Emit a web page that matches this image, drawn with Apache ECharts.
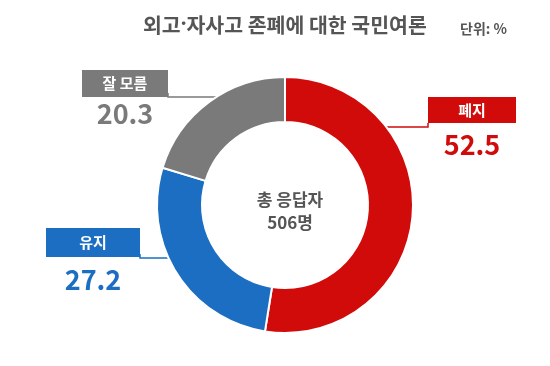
<!DOCTYPE html>
<html><head><meta charset="utf-8">
<script src="https://cdn.jsdelivr.net/npm/echarts@6/dist/echarts.min.js"></script>
<style>html,body{margin:0;padding:0;background:#fff}#c{width:550px;height:366px}</style>
</head><body><div id="c"></div>
<script>
var categories = ['폐지', '유지', '잘 모름'];
var values = [52.5, 27.2, 20.3];
var colors = ['#d10a0a', '#1b6ec2', '#7a7a7a'];
var titleParts = ['외고', '·', '자사고 존폐에 대한 국민여론'];
var unitText = '단위: %';
var centerText = '총 응답자\n506명';

// label layout: box center x, box top y, box width, box height, value line height, leader line y, side
var labelBoxes = [
  {cx: 472, top: 97, w: 88, h: 26, vlh: 44, lineY: 127, side: 1},
  {cx: 93, top: 228, w: 94, h: 29, vlh: 46, lineY: 258, side: -1},
  {cx: 125, top: 70, w: 86, h: 27, vlh: 34, lineY: 97, side: -1}
];
var CX = 285, CY = 205, R_OUT = 128, R_IN = 83;
var FONT = '"Noto Sans CJK KR", "Noto Sans", sans-serif';

var chart = echarts.init(document.getElementById('c'));
var data = categories.map(function (name, i) {
  var b = labelBoxes[i];
  return {
    name: name, value: values[i],
    itemStyle: {color: colors[i]},
    label: {
      formatter: '{box|{b}}\n{val|{c}}',
      overflow: 'none',
      rich: {
        box: {backgroundColor: colors[i], color: '#fff', width: b.w, height: b.h, lineHeight: b.h,
              align: 'center', fontSize: 15, fontWeight: 'bold', fontFamily: FONT},
        val: {color: colors[i], width: b.w, align: 'center', fontSize: 27, fontWeight: 'bold',
              lineHeight: b.vlh, fontFamily: FONT}
      }
    },
    labelLine: {lineStyle: {color: colors[i], width: 1.5}}
  };
});

chart.setOption({
  backgroundColor: '#fff',
  animation: false,
  title: [
    {text: '{a|' + titleParts[0] + '}{d|' + titleParts[1] + '}{a|' + titleParts[2] + '}', left: 138, top: 10,
     textStyle: {rich: {
       a: {fontSize: 20.5, fontWeight: 'bold', color: '#555', fontFamily: FONT},
       d: {fontSize: 20.5, fontWeight: 'bold', color: '#555', fontFamily: '"Noto Sans", sans-serif'}
     }}},
    {text: unitText, left: 455, top: 17, textStyle: {fontSize: 14, fontWeight: 'bold', color: '#555', fontFamily: FONT}},
    {text: centerText, left: CX, top: CY - 22, textAlign: 'center',
     textStyle: {fontSize: 17, fontWeight: 'bold', color: '#555', lineHeight: 23, fontFamily: FONT}}
  ],
  series: [{
    type: 'pie',
    center: [CX, CY],
    radius: [R_IN, R_OUT],
    startAngle: 90,
    clockwise: true,
    avoidLabelOverlap: false,
    itemStyle: {borderColor: '#fff', borderWidth: 2},
    label: {show: true, position: 'outside', overflow: 'none'},
    labelLine: {show: true},
    labelLayout: function (p) {
      var b = labelBoxes[p.dataIndex];
      var dy = b.lineY - CY;
      var x0 = CX + b.side * Math.sqrt(R_OUT * R_OUT - dy * dy);
      var edge = b.side > 0 ? b.cx - b.w / 2 : b.cx + b.w / 2;
      return {
        x: b.cx, y: b.top, align: 'center', verticalAlign: 'top',
        labelLinePoints: [[x0, b.lineY], [edge, b.lineY], [edge, b.lineY - 4]]
      };
    },
    data: data
  }]
});
</script></body></html>
